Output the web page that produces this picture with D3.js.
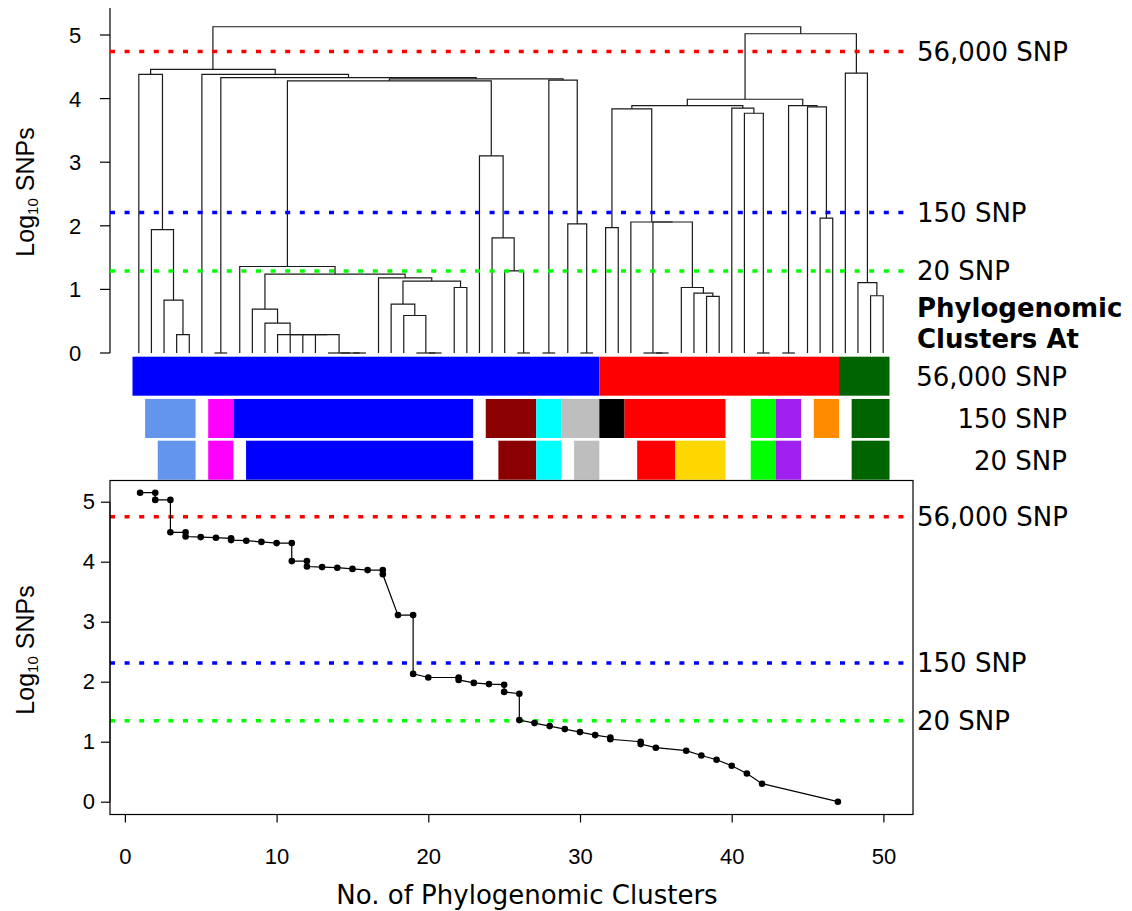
<!DOCTYPE html>
<html><head><meta charset="utf-8">
<script src="https://cdn.jsdelivr.net/npm/d3@7"></script>
<style>body{margin:0;background:#fff}svg{display:block}</style>
</head><body>
<svg id="chart" width="1132" height="911"></svg>
<script>
// ---------------- DATA ----------------
const L = null; // a leaf
// dendrogram subtrees: [height (log10 SNPs), left, right]
const blueTree = [4.46,
  [4.38, L, [1.94, L, [0.83, L, [0.29, L, L]]]],
  [4.38, L,
    [4.33, [0, L, L],
      [4.31,
        [4.28,
          [1.36, L,
            [1.24,
              [0.69, L, [0.47, L, [0.29, L, [0.29, L, [0.29, L, [0.29, L, [0, L, [0, L, [0, L, L]]]]]]]]],
              [1.18, L, [1.13, [0.77, L, [0.59, L, [0, L, [0, L, L]]]], [1.03, L, L]]]
            ]
          ],
          [3.10, L, [1.81, L, [1.29, L, [0, L, L]]]]
        ],
        [4.29, [0, L, L], [2.03, L, [0, L, L]]]
      ]
    ]
  ]
];
const redTree = [3.99,
  [3.89,
    [3.84, [1.97, L, L], [2.06, L, [2.06, [0, L, [0, L, L]], [1.03, L, [0.94, L, [0.89, L, L]]]]]],
    [3.85, L, [3.77, L, [0, L, L]]]
  ],
  [3.89, [0, L, L], [3.87, L, [2.12, L, L]]]
];
const greenTree = [4.40, L, [1.105, L, [0.90, L, L]]];
const rootHeight = 5.13, rightHeight = 5.02;

const leafCount = 60;
// colour bars: [first leaf, last leaf, colour]
const bar56000 = [[0,36,"#0000FF"],[37,55,"#FF0000"],[56,59,"#006400"]];
const bar150 = [[1,4,"#6495ED"],[6,7,"#FF00FF"],[8,26,"#0000FF"],[28,31,"#8B0000"],[32,33,"#00FFFF"],
  [34,36,"#BEBEBE"],[37,38,"#000000"],[39,46,"#FF0000"],[49,50,"#00FF00"],[51,52,"#A020F0"],[54,55,"#FF8C00"],[57,59,"#006400"]];
const bar20 = [[2,4,"#6495ED"],[6,7,"#FF00FF"],[9,26,"#0000FF"],[29,31,"#8B0000"],[32,33,"#00FFFF"],
  [35,36,"#BEBEBE"],[40,42,"#FF0000"],[43,46,"#FFD700"],[49,50,"#00FF00"],[51,52,"#A020F0"],[57,59,"#006400"]];

const thresholdLabels = ["56,000 SNP","150 SNP","20 SNP"];
const thresholdColors = ["#FF0000","#0000FF","#00FF00"];
const topThresholds = [4.74, 2.21, 1.29];
const bottomThresholds = [4.75, 2.31, 1.35];

const clusterCounts = [1,2,2,3,3,4,4,5,6,7,7,8,9,10,11,11,12,12,13,14,15,16,17,17,18,19,19,20,22,22,23,24,25,25,26,26,27,28,29,30,31,32,32,34,34,35,37,38,39,40,41,42,47];
const clusterLogSNPs = [5.15,5.15,5.03,5.03,4.49,4.49,4.42,4.41,4.40,4.39,4.36,4.35,4.33,4.31,4.31,4.01,4.01,3.92,3.91,3.90,3.88,3.86,3.86,3.79,3.11,3.11,2.13,2.07,2.07,2.03,1.98,1.96,1.95,1.83,1.80,1.36,1.31,1.26,1.21,1.16,1.11,1.07,1.04,1.00,0.96,0.90,0.85,0.77,0.70,0.60,0.47,0.30,0.0];
const yTicks = [0,1,2,3,4,5];
const xTicks = [0,10,20,30,40,50];

// ---------------- DRAW ----------------
const svg = d3.select("#chart");
const SANS = "'Liberation Sans', Arial, sans-serif";
const DEJA = "'DejaVu Sans', sans-serif";
const FS = 26;

// top panel scales
const yTop = d3.scaleLinear().domain([0,5]).range([353,35]);
const xLeaf = d3.scaleBand().domain(d3.range(leafCount)).range([132.5,889.5]).padding(0);
const bw = xLeaf.bandwidth();

const treeData = [rootHeight, blueTree, [rightHeight, redTree, greenTree]];
const root = d3.hierarchy(treeData, d => d ? [d[1], d[2]] : null);
let li = 0;
root.eachAfter(n => {
  if (!n.children) { n.px = xLeaf(li++) + bw/2; n.h = 0; }
  else { n.px = (n.children[0].px + n.children[1].px)/2; n.h = n.data[0]; }
});
const dendro = svg.append("g").attr("fill","none").attr("stroke","#1a1a1a").attr("stroke-width",1.2);
root.each(n => {
  if (!n.children) return;
  const [a,b] = n.children;
  dendro.append("path").attr("d",
    `M${a.px},${yTop(a.h)}V${yTop(n.h)}H${b.px}V${yTop(b.h)}`);
});

// top axis
const gTopAxis = svg.append("g").attr("transform","translate(110,0)");
gTopAxis.append("line").attr("x1",0).attr("x2",0).attr("y1",8).attr("y2",yTop(0)).attr("stroke","#000").attr("stroke-width",1.2);
yTicks.forEach(t => {
  gTopAxis.append("line").attr("x1",-10).attr("x2",0).attr("y1",yTop(t)).attr("y2",yTop(t)).attr("stroke","#000").attr("stroke-width",1.2);
  gTopAxis.append("text").attr("x",-35).attr("y",yTop(t)).attr("dy","0.36em").attr("text-anchor","middle")
    .attr("font-family",SANS).attr("font-size",22).text(t);
});

function yTitle(cx, cy){
  const t = svg.append("text").attr("transform",`translate(${cx},${cy}) rotate(-90)`)
    .attr("text-anchor","middle").attr("font-family",SANS).attr("font-size",25);
  t.append("tspan").text("Log");
  t.append("tspan").attr("font-size",15).attr("dy",4).text("10");
  t.append("tspan").attr("dy",-4).text(" SNPs");
}
yTitle(34,192);

// top thresholds
topThresholds.forEach((v,i) => {
  svg.append("line").attr("x1",110).attr("x2",910).attr("y1",yTop(v)).attr("y2",yTop(v))
    .attr("stroke",thresholdColors[i]).attr("stroke-width",3.5).attr("stroke-dasharray","5 9.6");
  svg.append("text").attr("x",917).attr("y",yTop(v)).attr("dy","0.36em").attr("font-family",DEJA)
    .attr("font-size",FS).text(thresholdLabels[i]);
});

// colour bars
const rows = [bar56000, bar150, bar20];
const rowY = [356.7, 399, 440.7], rowH = 39;
rows.forEach((row,ri) => {
  svg.append("g").selectAll("rect").data(row).join("rect")
    .attr("x", d => xLeaf(d[0])).attr("width", d => xLeaf(d[1]) + bw - xLeaf(d[0]))
    .attr("y", rowY[ri]).attr("height", rowH).attr("fill", d => d[2]);
  svg.append("text").attr("x",1067).attr("y",rowY[ri]+rowH/2).attr("dy","0.36em").attr("text-anchor","end")
    .attr("font-family",DEJA).attr("font-size",FS).text(thresholdLabels[ri]);
});
svg.append("text").attr("x",917).attr("y",308).attr("dy","0.36em").attr("font-family",DEJA)
  .attr("font-weight","bold").attr("font-size",FS).text("Phylogenomic");
svg.append("text").attr("x",917).attr("y",339).attr("dy","0.36em").attr("font-family",DEJA)
  .attr("font-weight","bold").attr("font-size",FS).text("Clusters At");

// bottom panel
const xB = d3.scaleLinear().domain([0,50]).range([124.9,883.4]);
const yB = d3.scaleLinear().domain([0,5]).range([801.7,501.7]);
const box = {l:110, r:913, t:480.5, b:814.5};

bottomThresholds.forEach((v,i) => {
  svg.append("line").attr("x1",box.l).attr("x2",box.r).attr("y1",yB(v)).attr("y2",yB(v))
    .attr("stroke",thresholdColors[i]).attr("stroke-width",3.5).attr("stroke-dasharray","5 9.6");
  svg.append("text").attr("x",917).attr("y",yB(v)).attr("dy","0.36em").attr("font-family",DEJA)
    .attr("font-size",FS).text(thresholdLabels[i]);
});

const pts = clusterCounts.map((k,i) => [k, clusterLogSNPs[i]]);
svg.append("path").datum(pts).attr("fill","none").attr("stroke","#000").attr("stroke-width",1.2)
  .attr("d", d3.line().x(d => xB(d[0])).y(d => yB(d[1])));
svg.append("g").selectAll("circle").data(pts).join("circle")
  .attr("cx", d => xB(d[0])).attr("cy", d => yB(d[1])).attr("r",3.3).attr("fill","#000");

svg.append("rect").attr("x",box.l).attr("y",box.t).attr("width",box.r-box.l).attr("height",box.b-box.t)
  .attr("fill","none").attr("stroke","#000").attr("stroke-width",1.2);

const gx = svg.append("g").attr("transform",`translate(0,${box.b})`)
  .call(d3.axisBottom(xB).tickValues(xTicks).tickFormat(d3.format("d")).tickSize(8));
gx.select(".domain").attr("d",`M${xB(0)},0H${xB(50)}`);
gx.selectAll("text").attr("font-family",SANS).attr("font-size",22).attr("fill","#000")
  .attr("y",42).attr("dy","0.36em");
gx.selectAll("line").attr("stroke-width",1.2);

const gy = svg.append("g").attr("transform",`translate(${box.l},0)`)
  .call(d3.axisLeft(yB).tickValues(yTicks).tickFormat(d3.format("d")).tickSize(9).tickPadding(6));
gy.select(".domain").attr("d",`M0,${yB(0)}V${yB(5)}`);
gy.selectAll("text").attr("font-family",SANS).attr("font-size",22).attr("fill","#000");
gy.selectAll("line").attr("stroke-width",1.2);

yTitle(34,650);
svg.append("text").attr("x",527).attr("y",904).attr("text-anchor","middle").attr("font-family",DEJA)
  .attr("font-size",FS).text("No. of Phylogenomic Clusters");
</script>
</body></html>
